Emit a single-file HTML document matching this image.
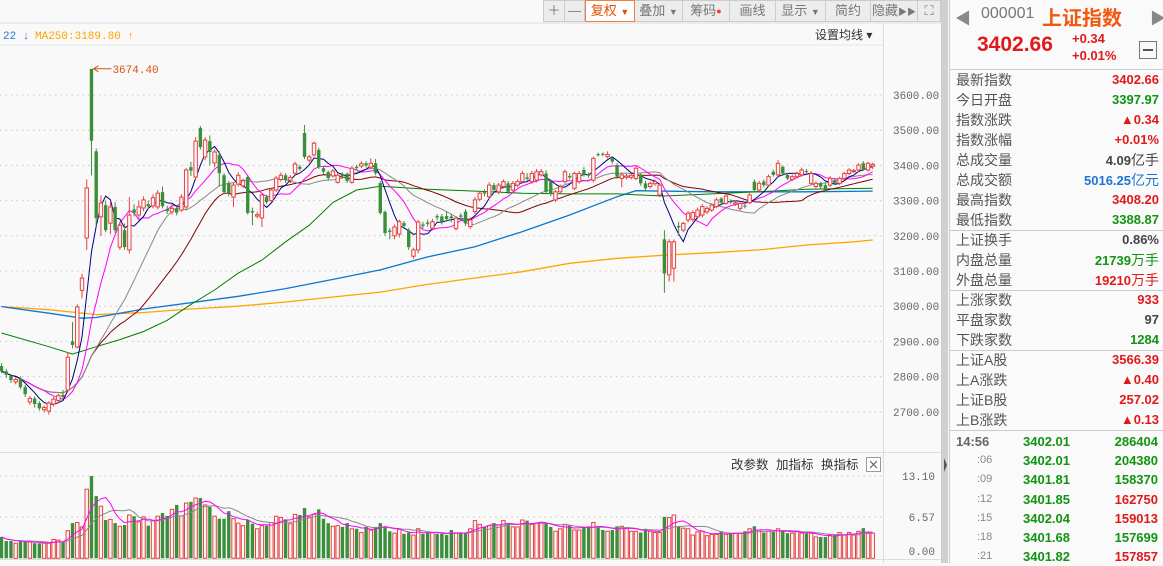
<!DOCTYPE html>
<html><head><meta charset="utf-8"><style>
*{margin:0;padding:0;box-sizing:border-box}
body{width:1163px;height:563px;overflow:hidden;background:#f9f9f9;font-family:"Liberation Sans","Noto Sans CJK SC",sans-serif;position:relative}
#chart{position:absolute;left:0;top:0}
.tb{position:absolute;top:0;height:22px;border:1px solid #ccc;border-left:none;background:#ececec;color:#777;font-size:13px;line-height:20px;text-align:center}
#rp{position:absolute;left:949px;top:0;width:214px;height:563px;background:#fafafa;border-left:1px solid #ccc}
.row{position:absolute;left:0;width:212px;height:20px;font-size:14px;line-height:20px}
.row .l{position:absolute;left:6px;color:#555}
.row .v{position:absolute;right:3px;font-weight:bold;font-size:13px}
.sep{position:absolute;left:0;width:214px;height:1px;background:#ccc}
.r{color:#e0191b}.g{color:#129412}.k{color:#444}.b{color:#1f76d2}
.tr{position:absolute;left:0;width:212px;height:19px;font-size:13px;font-weight:bold;line-height:19px}
</style></head><body>
<svg id="chart" width="948" height="563">
<rect x="0" y="0" width="948" height="563" fill="#f9f9f9"/>
<line x1="0" y1="23" x2="941" y2="23" stroke="#ddd"/>
<line x1="0" y1="45" x2="883" y2="45" stroke="#e6e6e6"/>
<line x1="883.5" y1="23" x2="883.5" y2="563" stroke="#ddd"/>
<line x1="941.5" y1="0" x2="941.5" y2="563" stroke="#ccc"/>
<rect x="942" y="0" width="6" height="563" fill="#d0d0d0"/>
<polygon points="944,458 947,465 944,472" fill="#555"/>
<line x1="0" y1="452.5" x2="941" y2="452.5" stroke="#ddd"/>
<line x1="0" y1="559.5" x2="941" y2="559.5" stroke="#ddd"/>
<g id="grid"></g>
<g id="ma"></g>
<g id="candles"></g>
<g id="vol"></g>
<text x="3" y="39" font-family="Liberation Mono,monospace" font-size="11" fill="#1f76d2">22 ↓</text>
<text x="35" y="39" font-family="Liberation Mono,monospace" font-size="11" fill="#ffa500">MA250:3189.80 ↑</text>
<text x="815" y="39" font-size="12" fill="#333">设置均线 ▾</text>
<text x="731" y="469" font-size="12.5" fill="#333">改参数</text>
<text x="776" y="469" font-size="12.5" fill="#333">加指标</text>
<text x="821" y="469" font-size="12.5" fill="#333">换指标</text>
<g><rect x="866.5" y="457.5" width="14" height="14" fill="#fff" stroke="#999"/><path d="M870 461 L877 468 M877 461 L870 468" stroke="#555"/></g>
<text x="935" y="480" text-anchor="end" font-family="Liberation Mono,monospace" font-size="11" fill="#666">13.10</text>
<text x="935" y="521" text-anchor="end" font-family="Liberation Mono,monospace" font-size="11" fill="#666">6.57</text>
<text x="935" y="555" text-anchor="end" font-family="Liberation Mono,monospace" font-size="11" fill="#666">0.00</text>
</svg>

<div class="tb" style="left:543px;width:22px;border-left:1px solid #ccc">＋</div>
<div class="tb" style="left:565px;width:20px">—</div>
<div class="tb" style="left:585px;width:50px;background:#fff;color:#e05000;border:1px solid #f08040">复权 <span style="font-size:9px">▼</span></div>
<div class="tb" style="left:635px;width:48px">叠加 <span style="font-size:9px">▼</span></div>
<div class="tb" style="left:683px;width:47px">筹码<span style="color:#f33;font-size:9px;vertical-align:top">●</span></div>
<div class="tb" style="left:730px;width:46px">画线</div>
<div class="tb" style="left:776px;width:50px">显示 <span style="font-size:9px">▼</span></div>
<div class="tb" style="left:826px;width:45px">简约</div>
<div class="tb" style="left:871px;width:47px">隐藏<span style="font-size:9px">▶▶</span></div>
<div class="tb" style="left:918px;width:23px">⛶</div>

<div id="rp">
<div style="position:absolute;left:5px;top:5px;color:#888;font-size:16px">◀</div>
<div style="position:absolute;left:31px;top:5px;color:#777;font-size:16px">000001</div>
<div style="position:absolute;left:92px;top:2px;color:#ef5a10;font-size:20px;font-weight:bold">上证指数</div>
<div style="position:absolute;left:200px;top:5px;color:#888;font-size:16px">▶</div>
<div style="position:absolute;left:27px;top:33px;color:#e0191b;font-size:21px;font-weight:bold">3402.66</div>
<div style="position:absolute;left:122px;top:30px;color:#e0191b;font-size:13px;font-weight:bold;line-height:17px">+0.34<br>+0.01%</div>
<div style="position:absolute;left:189px;top:41px;width:18px;height:18px;border:1px solid #777;"><div style="position:absolute;left:3px;top:7px;width:10px;height:2px;background:#555"></div></div>
<div class="sep" style="top:69px"></div>
<div class="row" style="top:70px"><span class="l">最新指数</span><span class="v r">3402.66</span></div>
<div class="row" style="top:90px"><span class="l">今日开盘</span><span class="v g">3397.97</span></div>
<div class="row" style="top:110px"><span class="l">指数涨跌</span><span class="v r">▲0.34</span></div>
<div class="row" style="top:130px"><span class="l">指数涨幅</span><span class="v r">+0.01%</span></div>
<div class="row" style="top:150px"><span class="l">总成交量</span><span class="v k">4.09<span style="font-weight:normal;font-size:14px">亿手</span></span></div>
<div class="row" style="top:170px"><span class="l">总成交额</span><span class="v b">5016.25<span style="font-weight:normal;font-size:14px">亿元</span></span></div>
<div class="row" style="top:190px"><span class="l">最高指数</span><span class="v r">3408.20</span></div>
<div class="row" style="top:210px"><span class="l">最低指数</span><span class="v g">3388.87</span></div>
<div class="sep" style="top:230px"></div>
<div class="row" style="top:230px"><span class="l">上证换手</span><span class="v k">0.86%</span></div>
<div class="row" style="top:250px"><span class="l">内盘总量</span><span class="v g">21739<span style="font-weight:normal;font-size:14px">万手</span></span></div>
<div class="row" style="top:270px"><span class="l">外盘总量</span><span class="v r">19210<span style="font-weight:normal;font-size:14px">万手</span></span></div>
<div class="sep" style="top:290px"></div>
<div class="row" style="top:290px"><span class="l">上涨家数</span><span class="v r">933</span></div>
<div class="row" style="top:310px"><span class="l">平盘家数</span><span class="v k">97</span></div>
<div class="row" style="top:330px"><span class="l">下跌家数</span><span class="v g">1284</span></div>
<div class="sep" style="top:350px"></div>
<div class="row" style="top:350px"><span class="l">上证A股</span><span class="v r">3566.39</span></div>
<div class="row" style="top:370px"><span class="l">上A涨跌</span><span class="v r">▲0.40</span></div>
<div class="row" style="top:390px"><span class="l">上证B股</span><span class="v r">257.02</span></div>
<div class="row" style="top:410px"><span class="l">上B涨跌</span><span class="v r">▲0.13</span></div>
<div class="sep" style="top:430px"></div>
<div class="tr" style="top:432px"><span style="position:absolute;left:6px;color:#666">14:56</span><span class="g" style="position:absolute;left:73px">3402.01</span><span class="g" style="position:absolute;right:4px">286404</span></div>
<div class="tr" style="top:451px"><span style="position:absolute;left:27px;color:#888;font-weight:normal;font-size:11px">:06</span><span class="g" style="position:absolute;left:73px">3402.01</span><span class="g" style="position:absolute;right:4px">204380</span></div>
<div class="tr" style="top:470px"><span style="position:absolute;left:27px;color:#888;font-weight:normal;font-size:11px">:09</span><span class="g" style="position:absolute;left:73px">3401.81</span><span class="g" style="position:absolute;right:4px">158370</span></div>
<div class="tr" style="top:490px"><span style="position:absolute;left:27px;color:#888;font-weight:normal;font-size:11px">:12</span><span class="g" style="position:absolute;left:73px">3401.85</span><span class="r" style="position:absolute;right:4px">162750</span></div>
<div class="tr" style="top:509px"><span style="position:absolute;left:27px;color:#888;font-weight:normal;font-size:11px">:15</span><span class="g" style="position:absolute;left:73px">3402.04</span><span class="r" style="position:absolute;right:4px">159013</span></div>
<div class="tr" style="top:528px"><span style="position:absolute;left:27px;color:#888;font-weight:normal;font-size:11px">:18</span><span class="g" style="position:absolute;left:73px">3401.68</span><span class="g" style="position:absolute;right:4px">157699</span></div>
<div class="tr" style="top:547px"><span style="position:absolute;left:27px;color:#888;font-weight:normal;font-size:11px">:21</span><span class="g" style="position:absolute;left:73px">3401.82</span><span class="r" style="position:absolute;right:4px">157857</span></div>
</div>

<script>
const priceTicks=[3600,3500,3400,3300,3200,3100,3000,2900,2800,2700];
const priceTickLabels=["3600.00","3500.00","3400.00","3300.00","3200.00","3100.00","3000.00","2900.00","2800.00","2700.00"];
const volTicks=[13.10,6.57];
const opens=[2830,2815,2802,2785,2795,2770,2728,2738,2725,2706,2702,2722,2732,2748,2762,2900,2884,3045,3194,3674,3440,3254,3287,3236,3282,3168,3216,3160,3275,3259,3279,3290,3285,3282,3324,3276,3268,3278,3273,3282,3395,3367,3506,3424,3469,3407,3430,3372,3350,3310,3347,3342,3367,3270,3256,3251,3310,3300,3330,3360,3372,3358,3378,3396,3492,3415,3430,3444,3392,3381,3370,3352,3375,3376,3352,3396,3398,3406,3395,3406,3350,3268,3215,3200,3205,3236,3216,3142,3160,3232,3238,3222,3256,3255,
3256,3255,3221,3258,3269,3226,3269,3304,3324,3311,3344,3325,3340,3349,3330,3344,3354,3366,3354,3358,3373,3377,3354,3302,3325,3354,3370,3335,3354,3387,3375,3358,3432,3433,3425,3420,3401,3363,3366,3366,3363,3373,3349,3340,3348,3316,3190,3089,3108,3228,3216,3245,3247,3254,3259,3268,3273,3283,3306,3292,3298,3290,3278,3286,3294,3354,3330,3354,3344,3382,3373,3396,3373,3360,3368,3373,3384,3349,3340,3349,3344,3344,3358,3349,3363,3377,3382,3387,3406,3387,3398];
const closes=[2815,2805,2790,2792,2770,2750,2738,2722,2710,2712,2725,2736,2746,2742,2855,2890,2998,3080,3336,3470,3250,3293,3216,3282,3216,3230,3168,3259,3265,3282,3302,3284,3308,3321,3284,3270,3278,3266,3310,3387,3385,3469,3452,3472,3438,3438,3378,3324,3321,3344,3372,3356,3265,3266,3260,3316,3296,3330,3364,3372,3358,3366,3404,3390,3424,3424,3463,3395,3382,3364,3384,3372,3370,3356,3392,3392,3405,3400,3406,3378,3265,3208,3211,3225,3240,3228,3168,3160,3239,3228,3234,3240,3252,3240,
3248,3250,3250,3254,3235,3245,3302,3321,3320,3344,3330,3344,3354,3325,3349,3354,3377,3362,3377,3382,3382,3325,3321,3325,3339,3382,3366,3377,3377,3373,3371,3420,3429,3430,3431,3411,3368,3373,3370,3372,3392,3349,3335,3349,3354,3344,3093,3183,3183,3224,3235,3264,3266,3273,3283,3278,3287,3302,3294,3313,3296,3294,3292,3284,3316,3330,3349,3344,3368,3373,3406,3377,3363,3368,3377,3387,3382,3377,3349,3340,3330,3363,3349,3363,3377,3387,3385,3401,3387,3406,3403];
const highs=[2838,2822,2808,2798,2800,2776,2745,2744,2730,2718,2730,2742,2752,2762,2870,2955,3005,3092,3360,3674.4,3448,3315,3300,3300,3295,3240,3235,3310,3290,3300,3312,3300,3318,3330,3340,3285,3290,3285,3318,3392,3410,3480,3512,3480,3485,3445,3440,3378,3356,3350,3380,3362,3372,3280,3268,3322,3316,3336,3370,3380,3378,3372,3410,3402,3515,3430,3468,3450,3398,3386,3390,3378,3380,3380,3398,3402,3412,3412,3420,3418,3355,3272,3222,3232,3246,3242,3222,3166,3245,3240,3246,3248,3262,3262,
3270,3262,3256,3264,3276,3252,3310,3328,3332,3352,3350,3350,3360,3356,3356,3360,3384,3378,3384,3390,3390,3386,3360,3330,3346,3388,3378,3382,3384,3395,3380,3425,3436,3437,3440,3426,3406,3380,3376,3378,3398,3378,3356,3354,3360,3350,3216,3190,3190,3240,3240,3270,3272,3280,3290,3284,3292,3308,3310,3318,3304,3300,3298,3292,3322,3360,3356,3360,3374,3388,3415,3400,3378,3374,3382,3394,3390,3384,3355,3354,3350,3370,3364,3368,3382,3392,3390,3406,3412,3410,3408];
const lows=[2810,2796,2782,2778,2764,2742,2720,2712,2704,2698,2692,2715,2726,2736,2755,2880,2880,3022,3160,3372,3228,3200,3210,3205,3208,3160,3160,3150,3255,3250,3270,3275,3278,3275,3278,3262,3260,3258,3268,3275,3370,3360,3445,3415,3400,3395,3340,3318,3312,3282,3340,3335,3260,3230,3250,3225,3290,3295,3325,3354,3350,3350,3372,3385,3418,3408,3425,3390,3375,3358,3366,3348,3362,3350,3348,3386,3392,3394,3390,3372,3260,3200,3190,3190,3195,3220,3160,3135,3150,3220,3226,3216,3244,3232,
3240,3238,3215,3246,3228,3220,3262,3298,3312,3305,3322,3318,3334,3318,3325,3338,3348,3356,3348,3352,3368,3318,3312,3296,3320,3348,3360,3330,3348,3368,3364,3352,3425,3426,3420,3405,3362,3338,3360,3360,3358,3342,3328,3334,3342,3310,3038,3070,3070,3200,3210,3238,3240,3248,3252,3262,3268,3278,3288,3288,3290,3285,3272,3278,3290,3325,3325,3338,3340,3368,3368,3370,3358,3355,3362,3368,3378,3344,3335,3334,3325,3338,3344,3344,3358,3372,3378,3382,3384,3382,3389];
const volumes=[3.4,2.75,2.75,2.4,2.75,2.6,2.6,2.4,2.4,2.4,2.4,3.0,2.9,2.6,4.4,5.6,5.7,5.0,11.0,13.1,9.9,8.3,6.1,6.2,5.6,5.1,5.3,6.9,6.7,5.8,6.6,5.2,6.0,6.7,7.2,6.75,7.8,8.5,6.75,8.8,9.0,9.6,9.6,8.5,8.2,6.7,6.3,6.3,7.5,6.3,5.6,5.2,6.1,5.5,4.7,5.2,5.2,5.7,6.7,6.5,6.2,5.5,7.0,6.9,8.0,6.6,7.0,7.8,6.3,5.6,5.1,5.2,5.0,5.6,4.7,4.7,4.1,5.0,4.5,5.0,5.6,5.1,4.3,4.0,4.6,3.9,4.1,3.7,4.7,3.9,4.1,4.1,3.9,3.9,
3.7,4.5,4.0,4.0,4.0,4.7,6.0,5.4,5.0,5.2,5.6,5.3,6.0,5.6,5.0,5.0,6.1,6.0,5.4,5.6,5.7,5.6,5.0,4.3,4.7,5.4,5.2,4.5,4.5,5.0,5.1,5.7,5.0,4.5,4.3,4.5,5.1,5.1,4.8,4.3,4.3,4.1,4.7,4.3,4.1,4.1,6.6,6.5,6.9,5.0,4.8,4.7,3.7,4.2,4.3,3.6,3.8,3.8,4.3,3.8,4.0,4.0,4.0,4.3,4.7,5.1,4.5,4.1,4.3,4.2,4.7,4.3,4.0,4.0,4.3,4.0,4.0,4.0,3.4,3.4,3.4,3.7,3.7,4.1,3.7,4.1,3.7,4.3,4.8,4.0,4.0];
const ma60Idx=[0,10,15,20,25,30,35,40,45,50,55,60,65,70,75,80,90,100,110,120,130,140,150,160,170,184];
const ma60Vals=[2924,2885,2864,2885,2905,2928,2960,3005,3046,3094,3131,3183,3230,3295,3330,3341,3332,3327,3321,3319,3319,3313,3319,3325,3332,3335];
const ma120Idx=[0,10,17,20,30,40,50,60,70,80,90,100,110,120,130,134,150,170,184];
const ma120Vals=[2999,2980,2966,2968,2992,3010,3028,3050,3076,3103,3140,3169,3212,3259,3311,3328,3325,3325,3327];
const ma250Idx=[0,10,20,30,40,50,60,70,80,90,100,110,120,130,140,150,160,170,180,184];
const ma250Vals=[2999,2990,2976,2982,2992,3000,3012,3026,3040,3062,3080,3098,3122,3136,3145,3152,3160,3174,3183,3188];

const NS='http://www.w3.org/2000/svg';
const xOf=i=>1.5+i*4.735;
const yP=v=>95+(3600-v)*0.352;
const yV=v=>558.3-v*6.28;
function mk(tag,attrs,parent){const e=document.createElementNS(NS,tag);for(const k in attrs)e.setAttribute(k,attrs[k]);parent.appendChild(e);return e;}
const grid=document.getElementById('grid'),maG=document.getElementById('ma'),cG=document.getElementById('candles'),vG=document.getElementById('vol');
priceTicks.forEach((t,k)=>{
  const gl=mk('line',{x1:0,x2:883,y1:yP(t),y2:yP(t),stroke:'#c8c8c8','stroke-dasharray':'1.5,4'},grid);
  
  
  const tx=mk('text',{x:893,y:yP(t)+4,'font-family':'Liberation Mono,monospace','font-size':11,fill:'#666'},grid);
  tx.textContent=priceTickLabels[k];
  
  
});
volTicks.forEach(t=>{
  const gl=mk('line',{x1:0,x2:883,y1:yV(t),y2:yV(t),stroke:'#c8c8c8','stroke-dasharray':'1.5,4'},grid);
  
  
});
function maCalc(arr,n){return arr.map((_,i)=>{let s=0,c=0;for(let j=Math.max(0,i-n+1);j<=i;j++){s+=arr[j];c++;}return s/c;});}
function drawLine(vals,idx,color,name,yf,parent,w){
  const pts=vals.map((v,k)=>xOf(idx?idx[k]:k).toFixed(1)+','+yf(v).toFixed(1)).join(' ');
  const p=mk('polyline',{points:pts,fill:'none',stroke:color,'stroke-width':w||1},parent);
  
  
}
drawLine(ma250Vals,ma250Idx,'#ffa500','ma250-line',yP,maG,1.3);
drawLine(ma120Vals,ma120Idx,'#0a78d2','ma120-line',yP,maG,1.3);
drawLine(ma60Vals,ma60Idx,'#008000','ma60-line',yP,maG,1);
drawLine(maCalc(closes,30),null,'#800000','ma30-line',yP,maG,1);
drawLine(maCalc(closes,20),null,'#888888','ma20-line',yP,maG,1);
drawLine(maCalc(closes,10),null,'#ff00ff','ma10-line',yP,maG,1);
drawLine(maCalc(closes,5),null,'#000080','ma5-line',yP,maG,1);
const bw=3.4;
opens.forEach((o,i)=>{
  const c=closes[i],x=xOf(i),up=c>=o,col=up?'#e84040':'#3a8f3a';
  const top=yP(Math.max(o,c)),bot=yP(Math.min(o,c));
  const wk=mk('line',{x1:x,x2:x,y1:yP(highs[i]),y2:yP(lows[i]),stroke:col},cG);
  
  
  if(up){
    mk('line',{x1:x,x2:x,y1:top,y2:bot,stroke:'#f9f9f9','stroke-width':2},cG);
  }
  const r=mk('rect',{x:x-bw/2,y:top,width:bw,height:Math.max(1,bot-top),fill:up?'#f9f9f9':col,stroke:col,'stroke-width':up?1:0},cG);
  
  
});
// peak marker
let hi=0;highs.forEach((h,i)=>{if(h>highs[hi])hi=i;});
const px=xOf(hi)+2,py=yP(highs[hi]);
mk('path',{d:`M${px} ${py} L${px+18} ${py} M${px+5} ${py-3} L${px} ${py} L${px+5} ${py+3}`,stroke:'#e05010',fill:'none'},cG);
const pt=mk('text',{x:px+19,y:py+4,'font-family':'Liberation Mono,monospace','font-size':11,fill:'#e05010'},cG);
pt.textContent=highs[hi].toFixed(2);


volumes.forEach((v,i)=>{
  if(i>=opens.length)return;
  const up=closes[i]>=opens[i],col=up?'#e84040':'#3a8f3a',x=xOf(i);
  const r=mk('rect',{x:x-bw/2,y:yV(v),width:bw,height:558.3-yV(v),fill:up?'#f9f9f9':col,stroke:col,'stroke-width':up?1:0},vG);
  
  
});
drawLine(maCalc(volumes,10),null,'#888888','volume-ma10-line',yV,vG,1);
drawLine(maCalc(volumes,5),null,'#ff00ff','volume-ma5-line',yV,vG,1);
</script>
</body></html>
